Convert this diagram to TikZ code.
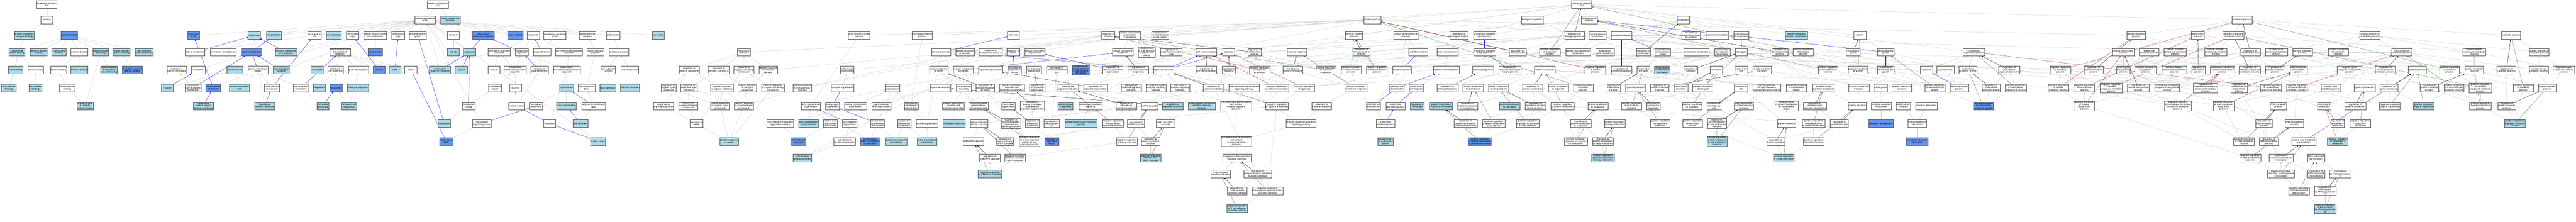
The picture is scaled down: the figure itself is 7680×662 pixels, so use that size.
\documentclass[tikz,border=0pt]{standalone}
\usepackage{fontspec}
\setmainfont{Liberation Sans}
\usetikzlibrary{arrows.meta,backgrounds}
\definecolor{lbl}{RGB}{173,216,230}
\definecolor{dbl}{RGB}{100,149,237}
\definecolor{bord}{RGB}{90,90,90}
\definecolor{egr}{RGB}{200,200,200}
\definecolor{ebl}{RGB}{0,0,255}
\definecolor{ered}{RGB}{178,34,34}
\definecolor{egrn}{RGB}{34,139,34}
\expandafter\def\csname rk0\endcsname{13.5}
\expandafter\def\csname rk1\endcsname{59}
\expandafter\def\csname rk2\endcsname{105.5}
\expandafter\def\csname rk3\endcsname{155.5}
\expandafter\def\csname rk4\endcsname{209}
\expandafter\def\csname rk5\endcsname{262}
\expandafter\def\csname rk6\endcsname{315.5}
\expandafter\def\csname rk7\endcsname{368.5}
\expandafter\def\csname rk8\endcsname{421.5}
\expandafter\def\csname rk9\endcsname{471.5}
\expandafter\def\csname rk10\endcsname{518.5}
\expandafter\def\csname rk11\endcsname{569}
\expandafter\def\csname rk12\endcsname{622}
\newcommand\GW[4]{\node[wbox] (#1) at (#2,\csname rk#3\endcsname) {#4};}
\newcommand\GL[4]{\node[lbox] (#1) at (#2,\csname rk#3\endcsname) {#4};}
\newcommand\GD[4]{\node[dbox] (#1) at (#2,\csname rk#3\endcsname) {#4};}
\tikzset{
gobox/.style={draw=bord,line width=0.7pt,rectangle,align=center,inner xsep=1.2pt,inner ysep=1pt,minimum height=23pt,minimum width=36pt,font=\fontsize{7}{6.9}\selectfont},
wbox/.style={gobox,fill=white},
lbox/.style={gobox,fill=lbl},
dbox/.style={gobox,fill=dbl},
edgebase/.style={line width=0.55pt,-{Triangle[length=4pt,width=3.4pt]}},
eg/.style={edgebase,color=egr},
eblue/.style={edgebase,color=ebl},
eblack/.style={edgebase,color=black},
ered/.style={edgebase,color=ered},
egreen/.style={edgebase,color=egrn}
}
\begin{document}
\begin{tikzpicture}[x=1pt,y=-1pt]
\path[use as bounding box] (0,0) rectangle (7680,662);
% ---------- molecular function ----------
\GW{mf}{139.4}{0}{molecular\_function\\Ezr}
\GW{bind}{139.4}{1}{binding}
\GL{pccb}{72}{2}{protein-containing\\complex binding}
\GD{pb}{206.3}{2}{protein binding}
\GL{cytb}{50}{3}{cytoskeletal\\protein binding}
\GL{idpb}{114.5}{3}{identical protein\\binding}
\GL{sbind}{175.7}{3}{S100 protein\\binding}
\GW{enzb}{236.5}{3}{enzyme binding}
\GL{pkab}{300.2}{3}{protein kinase\\A binding}
\GL{pdsb}{362.4}{3}{protein domain\\specific binding}
\GL{camb}{429.8}{3}{cell adhesion\\molecule binding}
\GL{actb}{46.5}{4}{actin binding}
\GW{tubb}{106.3}{4}{tubulin binding}
\GW{kinb}{174.3}{4}{kinase binding}
\GL{atpb}{236.3}{4}{ATPase binding}
\GL{pkar}{324.9}{4}{protein kinase\\A regulatory\\subunit binding}
\GD{ddsb}{394.3}{4}{disordered domain\\specific binding}
\GL{afb}{25.9}{5}{actin filament\\binding}
\GL{mtb}{106.1}{5}{microtubule\\binding}
\GW{pkb}{200.4}{5}{protein kinase\\binding}
\GL{pkac}{253.5}{6}{protein kinase\\A catalytic\\subunit binding}
% ---------- cellular component ----------
\GW{cc}{1305}{0}{cellular\_component\\Ezr}
\GW{cae}{1267.5}{1}{cellular anatomical\\entity}
\GL{pcc}{1342.4}{1}{protein-containing\\complex}
\GD{apc}{576.7}{2}{apical part\\of cell}
\GL{mem}{757.6}{2}{membrane}
\GL{cper}{816.5}{2}{cell periphery}
\GW{bpc}{937.3}{2}{basal part of\\cell}
\GL{cproj}{995.3}{2}{cell projection}
\GW{cte}{1050.8}{2}{cell trailing\\edge}
\GW{cabcp}{1118.6}{2}{cluster of actin-based\\cell projections}
\GW{cle}{1186.7}{2}{cell leading\\edge}
\GW{ems}{1245.5}{2}{endomembrane\\system}
\GW{cpole}{1351.6}{2}{cell pole}
\GD{ias}{1440.8}{2}{intracellular\\anatomical structure}
\GD{mys}{1536.3}{2}{myelin sheath}
\GW{org}{1590}{2}{organelle}
\GW{mel}{1654.3}{2}{membrane-enclosed\\lumen}
\GW{smc}{1751.4}{2}{supramolecular\\complex}
\GW{cj}{1828}{2}{cell junction}
\GL{cbody}{1962.9}{2}{cell body}
\GW{som}{581.4}{3}{side of membrane}
\GW{mmd}{665.5}{3}{membrane microdomain}
\GD{pm}{750}{3}{plasma membrane}
\GL{ecm}{853}{3}{extrinsic component\\of membrane}
\GW{pmbcp}{1014}{3}{plasma membrane\\bounded cell\\projection}
\GD{bb}{1118.6}{3}{brush border}
\GL{ctip}{1351.6}{3}{cell tip}
\GL{cyto}{1399.8}{3}{cytoplasm}
\GW{mbo}{1488.4}{3}{membrane-bounded\\organelle}
\GW{io}{1555.5}{3}{intracellular\\organelle}
\GW{ol}{1615.7}{3}{organelle lumen}
\GW{nmbo}{1696.3}{3}{non-membrane-bounded\\organelle}
\GW{smp}{1775.5}{3}{supramolecular\\polymer}
\GW{aj}{1845.1}{3}{anchoring junction}
\GW{csm}{526.7}{4}{cytoplasmic\\side of membrane}
\GW{sarc}{590.8}{4}{sarcolemma}
\GL{mraft}{700}{4}{membrane raft}
\GW{pmr}{769}{4}{plasma membrane\\region}
\GL{isyn}{838}{4}{immunological\\synapse}
\GL{mspk}{944.9}{4}{microspike}
\GW{abcp}{1000.6}{4}{actin-based\\cell projection}
\GW{gcp}{1068.4}{4}{glial cell projection}
\GD{urop}{1130.2}{4}{uropod}
\GL{ruff}{1177.6}{4}{ruffle}
\GW{cil}{1224.7}{4}{cilium}
\GL{pnr}{1312}{4}{perinuclear\\region of cytoplasm}
\GL{cytsol}{1375.3}{4}{cytosol}
\GW{ves}{1472.2}{4}{vesicle}
\GW{imbo}{1535.5}{4}{intracellular\\membrane-bounded\\organelle}
\GW{iol}{1608.8}{4}{intracellular\\organelle lumen}
\GW{inmbo}{1689.6}{4}{intracellular\\non-membrane-bounded\\organelle}
\GW{csj}{1813}{4}{cell-substrate\\junction}
\GW{ccj}{1877.8}{4}{cell-cell junction}
\GL{ttub}{498.6}{5}{T-tubule}
\GW{cspm}{575.1}{5}{cytoplasmic\\side of plasma\\membrane}
\GD{apm}{635.9}{5}{apical plasma\\membrane}
\GL{pmraft}{713.5}{5}{plasma membrane\\raft}
\GW{bpm}{810.4}{5}{basal plasma\\membrane}
\GW{cpm}{897.6}{5}{cell projection\\membrane}
\GL{filo}{951.8}{5}{filopodium}
\GD{mvil}{1001.8}{5}{microvillus}
\GL{astp}{1066.9}{5}{astrocyte projection}
\GW{ivs}{1475.7}{5}{intracellular\\vesicle}
\GW{nuc}{1537.1}{5}{nucleus}
\GL{csk}{1688.8}{5}{cytoskeleton}
\GW{smf}{1748.8}{5}{supramolecular\\fiber}
\GL{fadh}{1811.4}{5}{focal adhesion}
\GL{adhj}{1878.4}{5}{adherens junction}
\GL{csapm}{605.9}{6}{cytoplasmic\\side of apical\\plasma membrane}
\GL{blpm}{789.6}{6}{basolateral\\plasma membrane}
\GL{mvm}{962.4}{6}{microvillus\\membrane}
\GL{scm}{1041}{6}{Schwann cell\\microvillus}
\GW{cves}{1396.9}{6}{cytoplasmic\\vesicle}
\GW{nlum}{1539.6}{6}{nuclear lumen}
\GW{mtc}{1597.8}{6}{microtubule\\cytoskeleton}
\GL{acsk}{1688.6}{6}{actin cytoskeleton}
\GW{pcf}{1769.4}{6}{polymeric cytoskeletal\\fiber}
\GL{endo}{1324.1}{7}{endosome}
\GW{mtoc}{1436.7}{7}{microtubule\\organizing center}
\GW{ncl}{1638.8}{7}{nucleolus}
\GL{af}{1730.6}{7}{actin filament}
\GD{cbb}{1330.6}{8}{ciliary basal\\body}
\GL{fc}{1782.9}{8}{fibrillar center}
% ---------- biological process ----------
\GW{bp}{4715.5}{0}{biological\_process\\Ezr}
\GW{breg}{4568}{1}{biological regulation}
\GW{dp}{4737.8}{1}{developmental\\process}
\GW{loc}{5017.8}{1}{localization}
\GW{cp}{4091.2}{1}{cellular process}
\GW{mp}{6684.1}{1}{metabolic process}
\GW{afbp}{2561.2}{2}{actin filament-based\\process}
\GW{mtbp}{2749.4}{2}{microtubule-based\\process}
\GW{ccyc}{3020.6}{2}{cell cycle}
\GW{rstim}{3303.5}{2}{response to\\stimulus}
\GW{ccob}{3368.2}{2}{cellular component\\organization\\or biogenesis}
\GW{emcp}{3459.2}{2}{establishment\\or maintenance\\of cell polarity}
\GW{isp}{4035.9}{2}{immune system\\process}
\GW{cdp}{4191.2}{2}{cellular developmental\\process}
\GW{rbq}{4350.2}{2}{regulation of\\biological quality}
\GW{asd}{4425.9}{2}{anatomical structure\\development}
\GW{rbp}{4694.1}{2}{regulation of\\biological process}
\GW{mloc}{4762.7}{2}{macromolecule\\localization}
\GW{cloc}{4833.7}{2}{cellular localization}
\GW{mtocl}{5041.8}{2}{microtubule\\organizing center\\localization}
\GW{oloc}{5119.2}{2}{organelle localization}
\GW{eloc}{5191.4}{2}{establishment\\of localization}
\GL{pccl}{5355.7}{2}{protein-containing\\complex localization}
\GW{growth}{5545.1}{2}{growth}
\GW{cmp}{6368.6}{2}{cellular metabolic\\process}
\GW{bsp}{6552.2}{2}{biosynthetic\\process}
\GW{ncmp}{6658.4}{2}{nitrogen compound\\metabolic process}
\GW{osmp}{7065.5}{2}{organic substance\\metabolic process}
\GW{catp}{7486.5}{2}{catabolic process}
% r3
\GW{rchem}{2218}{3}{response to\\chemical}
\GW{ccp}{2805.9}{3}{cell cycle process}
\GW{crs}{2876.5}{3}{cellular response\\to stimulus}
\GW{res}{2953}{3}{response to\\endogenous stimulus}
\GW{rstress}{3020.8}{3}{response to\\stress}
\GW{cco}{3085.5}{3}{cellular component\\organization}
\GW{ccb}{3347.6}{3}{cellular component\\biogenesis}
\GW{emcpb}{3418.2}{3}{establishment\\or maintenance\\of bipolar cell\\polarity}
\GW{rass}{3491.8}{3}{regulation of\\anatomical structure\\size}
\GW{ccom}{3596.5}{3}{cell communication}
\GW{sig}{3663.3}{3}{signaling}
\GW{rrs}{3740.6}{3}{regulation of\\response to\\stimulus}
\GW{ir}{3867}{3}{immune response}
\GW{risp}{4059}{3}{regulation of\\immune system\\process}
\GW{cdiff}{4228.4}{3}{cell differentiation}
\GW{tdev}{4315.5}{3}{tissue development}
\GW{asm}{4425.9}{3}{anatomical structure\\morphogenesis}
\GW{rcp}{4524.1}{3}{regulation of\\cellular process}
\GW{nrbp}{4620.2}{3}{negative regulation\\of biological\\process}
\GW{cml}{4704.5}{3}{cellular macromolecule\\localization}
\GW{lwm}{4785.1}{3}{localization\\within membrane}
\GW{rloc}{4899.2}{3}{regulation of\\localization}
\GW{elc}{4957.3}{3}{establishment\\of localization\\in cell}
\GW{csl}{5057.6}{3}{centrosome localization}
\GW{eol}{5134.9}{3}{establishment\\of organelle\\localization}
\GW{trans}{5191.4}{3}{transport}
\GW{rdp}{5306.1}{3}{regulation of\\developmental\\process}
\GW{prbp}{5375.5}{3}{positive regulation\\of biological\\process}
\GW{rgrowth}{5524.9}{3}{regulation of\\growth}
\GW{dgrowth}{5622}{3}{developmental\\growth}
\GW{mop}{5884.7}{3}{multicellular\\organismal process}
\GW{cbsp}{6330.2}{3}{cellular biosynthetic\\process}
\GW{hmp}{6406.7}{3}{heterocycle\\metabolic process}
\GW{camp}{6484.7}{3}{cellular aromatic\\compound metabolic\\process}
\GW{cncmp}{6606.1}{3}{cellular nitrogen\\compound metabolic\\process}
\GW{rmp}{6709.2}{3}{regulation of\\metabolic process}
\GW{occmp}{6786.9}{3}{organic cyclic\\compound metabolic\\process}
\GW{pmp}{6864.7}{3}{primary metabolic\\process}
\GW{osbp}{6971}{3}{organic substance\\biosynthetic\\process}
\GW{mmp}{7160.2}{3}{macromolecule\\metabolic process}
\GW{oncmp}{7376.3}{3}{organonitrogen\\compound metabolic\\process}
\GW{oscp}{7569.8}{3}{organic substance\\catabolic process}
% r4
\GW{ros}{2054.9}{4}{response to\\organic substance}
\GW{rnc}{2142.4}{4}{response to\\nitrogen compound}
\GW{roc}{2217.8}{4}{response to\\oxygen-containing\\compound}
\GW{crcs}{2290}{4}{cellular response\\to chemical\\stimulus}
\GW{cjo}{2525.9}{4}{cell junction\\organization}
\GW{crstress}{2798.8}{4}{cellular response\\to stress}
\GW{cca}{2872}{4}{cellular component\\assembly}
\GW{oo}{2953}{4}{organelle organization}
\GW{rrstress}{3024.5}{4}{regulation of\\response to\\stress}
\GW{cpo}{3082.7}{4}{cell projection\\organization}
\GW{rccs}{3151}{4}{regulation of\\cellular component\\size}
\GD{emab}{3221.8}{4}{establishment\\or maintenance\\of apical/basal\\cell polarity}
\GW{rcco}{3317.3}{4}{regulation of\\cellular component\\organization}
\GW{rccb}{3393.5}{4}{regulation of\\cellular component\\biogenesis}
\GW{st}{3469.6}{4}{signal transduction}
\GW{rcc}{3596.3}{4}{regulation of\\cell communication}
\GW{rsig}{3663.7}{4}{regulation of\\signaling}
\GW{nrrs}{3755.3}{4}{negative regulation\\of response\\to stimulus}
\GW{rir}{3854.3}{4}{regulation of\\immune response}
\GW{prrs}{3953.1}{4}{positive regulation\\of response\\to stimulus}
\GW{prisp}{4028.4}{4}{positive regulation\\of immune system\\process}
\GW{nrisp}{4104.9}{4}{negative regulation\\of immune system\\process}
\GW{cdev}{4179.2}{4}{cell development}
\GW{edev}{4311.4}{4}{epithelium development}
\GW{cmorph}{4422}{4}{cell morphogenesis}
\GW{rasm}{4501.4}{4}{regulation of\\anatomical structure\\morphogenesis}
\GW{ploc}{4605.1}{4}{protein localization}
\GW{nrcp}{4756.1}{4}{negative regulation\\of cellular\\process}
\GW{rcl}{4833.7}{4}{regulation of\\cellular localization}
\GW{itr}{4899.4}{4}{intracellular\\transport}
\GL{ecl}{4955.7}{4}{establishment\\of centrosome\\localization}
\GW{rtr}{5040.4}{4}{regulation of\\transport}
\GW{secr}{5116.4}{4}{secretion}
\GW{efc}{5191}{4}{export from\\cell}
\GW{vmt}{5252.9}{4}{vesicle-mediated\\transport}
\GW{prdp}{5450.2}{4}{positive regulation\\of developmental\\process}
\GW{prg}{5539.2}{4}{positive regulation\\of growth}
\GW{rdg}{5622}{4}{regulation of\\developmental\\growth}
\GW{dig}{5743.7}{4}{digestion}
\GW{sysp}{5800.2}{4}{system process}
\GW{mog}{5866.9}{4}{multicellular\\organism growth}
\GW{rmop}{5990.2}{4}{regulation of\\multicellular\\organismal process}
\GW{nrmp}{6142.2}{4}{negative regulation\\of metabolic\\process}
\GW{rcmp}{6241.6}{4}{regulation of\\cellular metabolic\\process}
\GW{hbp}{6330.2}{4}{heterocycle\\biosynthetic\\process}
\GW{acbp}{6396.6}{4}{aromatic compound\\biosynthetic\\process}
\GW{cncbp}{6481.6}{4}{cellular nitrogen\\compound biosynthetic\\process}
\GW{rbsp}{6554.3}{4}{regulation of\\biosynthetic\\process}
\GW{nccmp}{6625.5}{4}{nucleobase-containing\\compound metabolic\\process}
\GW{rncmp}{6707.3}{4}{regulation of\\nitrogen compound\\metabolic process}
\GW{rpmp}{6782.9}{4}{regulation of\\primary metabolic\\process}
\GW{mbp}{6852.9}{4}{macromolecule\\biosynthetic\\process}
\GW{occbp}{7004.5}{4}{organic cyclic\\compound biosynthetic\\process}
\GW{rmmp}{7111.2}{4}{regulation of\\macromolecule\\metabolic process}
\GW{ge}{7206.9}{4}{gene expression}
\GW{prmp}{7302.9}{4}{positive regulation\\of metabolic\\process}
\GW{protmp}{7376.3}{4}{protein metabolic\\process}
\GW{rcatp}{7472.7}{4}{regulation of\\catabolic process}
\GW{mcp}{7568.6}{4}{macromolecule\\catabolic process}
\GW{onccp}{7643}{4}{organonitrogen\\compound catabolic\\process}
% r5
\GW{rocc}{1993.7}{5}{response to\\organic cyclic\\compound}
\GW{ronc}{2054.5}{5}{response to\\organonitrogen\\compound}
\GW{cros}{2152.7}{5}{cellular response\\to organic substance}
\GW{crnc}{2227.6}{5}{cellular response\\to nitrogen\\compound}
\GW{croc}{2303.9}{5}{cellular response\\to oxygen-containing\\compound}
\GW{cres}{2392.2}{5}{cellular response\\to endogenous\\stimulus}
\GW{syno}{2511.6}{5}{synapse organization}
\GW{csko}{2661.6}{5}{cytoskeleton\\organization}
\GW{oasm}{2803.5}{5}{organelle assembly}
\GW{cpa}{2873.3}{5}{cell projection\\assembly}
\GW{rcrs}{2937.6}{5}{regulation of\\cellular response\\to stress}
\GW{pmbcpo}{3017.3}{5}{plasma membrane\\bounded cell\\projection organization}
\GW{rcpo}{3092}{5}{regulation of\\cell projection\\organization}
\GW{ist}{3184.5}{5}{intracellular\\signal transduction}
\GW{roo}{3266.1}{5}{regulation of\\organelle organization}
\GW{smsp}{3372.4}{5}{sphingolipid\\mediated signaling\\pathway}
\GW{gpcr}{3446.5}{5}{G protein-coupled\\receptor signaling\\pathway}
\GW{csrsp}{3518.6}{5}{cell surface\\receptor signaling\\pathway}
\GW{rst}{3617.6}{5}{regulation of\\signal transduction}
\GW{irrsp}{3709.4}{5}{immune response-regulating\\signaling pathway}
\GW{nrcc}{3806.3}{5}{negative regulation\\of cell communication}
\GW{nrsig}{3888.2}{5}{negative regulation\\of signaling}
\GW{prir}{4042.2}{5}{positive regulation\\of immune response}
\GW{ecd}{4163.9}{5}{epithelial cell\\differentiation}
\GW{endev}{4223.1}{5}{endothelium\\development}
\GW{rcm}{4315.1}{5}{regulation of\\cell morphogenesis}
\GW{plm}{4391.8}{5}{protein localization\\to membrane}
\GW{plcp}{4467.8}{5}{protein localization\\to cell periphery}
\GW{rploc}{4569.2}{5}{regulation of\\protein localization}
\GW{plo}{4645.5}{5}{protein localization\\to organelle}
\GW{prcp}{4720.2}{5}{positive regulation\\of cellular\\process}
\GW{ritr}{4810.8}{5}{regulation of\\intracellular\\transport}
\GW{cytt}{4875.3}{5}{cytosolic transport}
\GW{rvmt}{4947.6}{5}{regulation of\\vesicle-mediated\\transport}
\GW{rsecr}{5011}{5}{regulation of\\secretion}
\GW{prtr}{5076.1}{5}{positive regulation\\of transport}
\GW{sbc}{5190.2}{5}{secretion by\\cell}
\GW{vmtec}{5267.3}{5}{vesicle-mediated\\transport between\\endosomal compartments}
\GW{pler}{5355.3}{5}{protein localization\\to extracellular\\region}
\GW{epl}{5435.9}{5}{establishment\\of protein localization}
\GW{nct}{5542}{5}{nitrogen compound\\transport}
\GW{endoc}{5606.9}{5}{endocytosis}
\GW{ost}{5669.8}{5}{organic substance\\transport}
\GW{prdg}{5768.6}{5}{positive regulation\\of developmental\\growth}
\GW{dsp}{5841.6}{5}{digestive system\\process}
\GW{rmog}{5936.3}{5}{regulation of\\multicellular\\organism growth}
\GW{prmop}{6009.6}{5}{positive regulation\\of multicellular\\organismal process}
\GW{nrcmp}{6136.5}{5}{negative regulation\\of cellular\\metabolic process}
\GW{nrbsp}{6214.1}{5}{negative regulation\\of biosynthetic\\process}
\GW{nrncmp}{6294.1}{5}{negative regulation\\of nitrogen\\compound metabolic\\process}
\GW{rcbsp}{6374.9}{5}{regulation of\\cellular biosynthetic\\process}
\GW{nccbp}{6460.6}{5}{nucleobase-containing\\compound biosynthetic\\process}
\GW{rnccmp}{6574.9}{5}{regulation of\\nucleobase-containing\\compound metabolic\\process}
\GW{rmbp}{6675.5}{5}{regulation of\\macromolecule\\biosynthetic\\process}
\GW{nrmop}{6770.8}{5}{negative regulation\\of multicellular\\organismal process}
\GW{nrmmp}{6848.4}{5}{negative regulation\\of macromolecule\\metabolic process}
\GW{namp}{6948.8}{5}{nucleic acid\\metabolic process}
\GW{cytp}{7049.2}{5}{cytokine production}
\GW{rge}{7122.2}{5}{regulation of\\gene expression}
\GW{rprotmp}{7242}{5}{regulation of\\protein metabolic\\process}
\GW{prmmp}{7315.7}{5}{positive regulation\\of macromolecule\\metabolic process}
\GW{prncmp}{7394.5}{5}{positive regulation\\of nitrogen\\compound metabolic\\process}
\GW{prcatp}{7522.9}{5}{positive regulation\\of catabolic\\process}
\GW{pcatp}{7594.1}{5}{protein catabolic\\process}
% r6
\GW{rop}{1978.2}{6}{response to\\organophosphorus}
\GW{rpcc}{2051.6}{6}{response to\\purine-containing\\compound}
\GW{crocc}{2146.5}{6}{cellular response\\to organic cyclic\\compound}
\GW{cronc}{2217.6}{6}{cellular response\\to organonitrogen\\compound}
\GW{acso}{2417.3}{6}{actin cytoskeleton\\organization}
\GW{pso}{2481.6}{6}{postsynapse\\organization}
\GW{ccso}{2550.6}{6}{cortical cytoskeleton\\organization}
\GW{sfo}{2627.6}{6}{supramolecular\\fiber organization}
\GW{mtco}{2716.1}{6}{microtubule\\cytoskeleton\\organization}
\GW{pmbcpa}{2841.4}{6}{plasma membrane\\bounded cell\\projection assembly}
\GW{sapk}{2917.6}{6}{stress-activated\\protein kinase\\signaling cascade}
\GW{mvo}{3006.1}{6}{microvillus\\organization}
\GW{rpmbcpo}{3077.6}{6}{regulation of\\plasma membrane\\bounded cell\\projection organization}
\GL{pkas}{3176}{6}{protein kinase\\A signaling}
\GW{ilms}{3251}{6}{inositol lipid-mediated\\signaling}
\GW{rist}{3358.2}{6}{regulation of\\intracellular\\signal transduction}
\GW{mapk}{3427.1}{6}{MAPK cascade}
\GL{roa}{3496.3}{6}{regulation of\\organelle assembly}
\GL{s1p}{3583.5}{6}{sphingosine-1-phosphate\\receptor signaling\\pathway}
\GW{irrcsr}{3685.3}{6}{immune response-regulating\\cell surface\\receptor signaling\\pathway}
\GW{nrst}{3806.6}{6}{negative regulation\\of signal transduction}
\GW{air}{3940.4}{6}{activation of\\immune response}
\GW{ecdev}{4094.7}{6}{epithelial cell\\development}
\GW{encd}{4160.4}{6}{endothelial\\cell differentiation}
\GL{rcs}{4225.5}{6}{regulation of\\cell shape}
\GL{plpm}{4295.7}{6}{protein localization\\to plasma membrane}
\GW{rplm}{4375.5}{6}{regulation of\\protein localization\\to membrane}
\GL{plcc}{4500.9}{6}{protein localization\\to cell cortex}
\GW{rplcp}{4577.8}{6}{regulation of\\protein localization\\to cell periphery}
\GW{prploc}{4658.4}{6}{positive regulation\\of protein localization}
\GW{ple}{4763.7}{6}{protein localization\\to endosome}
\GW{pritr}{4863.9}{6}{positive regulation\\of intracellular\\transport}
\GW{rctr}{4929.2}{6}{regulation of\\cytoplasmic\\transport}
\GW{prsecr}{5044.9}{6}{positive regulation\\of secretion}
\GW{rsbc}{5109.6}{6}{regulation of\\secretion by\\cell}
\GW{eele}{5198.8}{6}{early endosome\\to late endosome\\transport}
\GW{epler}{5326.3}{6}{establishment\\of protein localization\\to extracellular\\region}
\GW{repl}{5410.8}{6}{regulation of\\establishment\\of protein localization}
\GW{ptr}{5537.3}{6}{protein transport}
\GW{rme}{5608.6}{6}{receptor-mediated\\endocytosis}
\GW{cht}{5674.1}{6}{carbohydrate\\transport}
\GW{ia}{5742.8}{6}{intestinal absorption}
\GD{prmog}{5912.9}{6}{positive regulation\\of multicellular\\organism growth}
\GW{nrcbsp}{6214.1}{6}{negative regulation\\of cellular\\biosynthetic\\process}
\GW{nrnccmp}{6492.7}{6}{negative regulation\\of nucleobase-containing\\compound metabolic\\process}
\GW{nrmbp}{6629}{6}{negative regulation\\of macromolecule\\biosynthetic\\process}
\GW{rnamp}{6792.9}{6}{RNA metabolic\\process}
\GW{il2p}{6929.2}{6}{interleukin-2\\production}
\GW{rcytp}{7021.5}{6}{regulation of\\cytokine production}
\GW{nrge}{7124.5}{6}{negative regulation\\of gene expression}
\GL{prge}{7225.9}{6}{positive regulation\\of gene expression}
\GW{prprotmp}{7394.5}{6}{positive regulation\\of protein metabolic\\process}
\GW{rpcatp}{7473.5}{6}{regulation of\\protein catabolic\\process}
% r7
\GW{rcamp}{2076.1}{7}{response to\\cAMP}
\GW{nmboa}{2326.1}{7}{non-membrane-bounded\\organelle assembly}
\GL{acsr}{2410}{7}{actin cytoskeleton\\reorganization}
\GW{cacso}{2475.7}{7}{cortical actin\\cytoskeleton\\organization}
\GW{afo}{2533}{7}{actin filament\\organization}
\GW{pcso}{2615.5}{7}{postsynaptic\\cytoskeleton\\organization}
\GW{cmo}{2695.9}{7}{cytoplasmic\\microtubule\\organization}
\GW{spo}{2763.5}{7}{spindle organization}
\GL{filoa}{2844.7}{7}{filopodium assembly}
\GW{samapk}{2918.8}{7}{stress-activated\\MAPK cascade}
\GW{rsapk}{3013.5}{7}{regulation of\\stress-activated\\protein kinase\\signaling cascade}
\GW{rmvo}{3077.8}{7}{regulation of\\microvillus\\organization}
\GW{rcps}{3135.5}{7}{regulation of\\cell projection\\size}
\GL{pims}{3222.5}{7}{phosphatidylinositol-mediated\\signaling}
\GW{nrist}{3317.6}{7}{negative regulation\\of intracellular\\signal transduction}
\GW{rmapk}{3386.9}{7}{regulation of\\MAPK cascade}
\GW{erk}{3474.9}{7}{ERK1 and ERK2\\cascade}
\GW{irasp}{3878.8}{7}{immune response-activating\\signaling pathway}
\GW{ecdv}{4130.2}{7}{endothelial\\cell development}
\GW{rplpm}{4369.2}{7}{regulation of\\protein localization\\to plasma membrane}
\GW{prplm}{4452.9}{7}{positive regulation\\of protein localization\\to membrane}
\GW{prplcp}{4554.7}{7}{positive regulation\\of protein localization\\to cell periphery}
\GW{rple}{4712.9}{7}{regulation of\\protein localization\\to endosome}
\GW{plee}{4813.9}{7}{protein localization\\to early endosome}
\GW{prctr}{4949.6}{7}{positive regulation\\of cytoplasmic\\transport}
\GW{prsbc}{5046.1}{7}{positive regulation\\of secretion\\by cell}
\GW{reele}{5118.8}{7}{regulation of\\early endosome\\to late endosome\\transport}
\GW{psec}{5326.3}{7}{protein secretion}
\GW{prepl}{5406.9}{7}{positive regulation\\of establishment\\of protein localization}
\GW{rptr}{5483.5}{7}{regulation of\\protein transport}
\GD{rint}{5608.6}{7}{receptor internalization}
\GW{iha}{5715.5}{7}{intestinal hexose\\absorption}
\GW{rrnamp}{6748.8}{7}{regulation of\\RNA metabolic\\process}
\GW{rnabp}{6840.2}{7}{RNA biosynthetic\\process}
\GW{ril2}{6969.2}{7}{regulation of\\interleukin-2\\production}
\GW{nrcytp}{7036.8}{7}{negative regulation\\of cytokine\\production}
\GL{prpcatp}{7497.1}{7}{positive regulation\\of protein catabolic\\process}
% r8
\GL{crcamp}{2173.5}{8}{cellular response\\to cAMP}
\GD{twa}{2381}{8}{terminal web\\assembly}
\GW{afbo}{2518}{8}{actin filament\\bundle organization}
\GD{pacso}{2594.5}{8}{postsynaptic\\actin cytoskeleton\\organization}
\GL{cmto}{2671.8}{8}{cortical microtubule\\organization}
\GL{amto}{2763.7}{8}{astral microtubule\\organization}
\GW{p38}{2901.8}{8}{p38MAPK cascade}
\GW{rsamapk}{2996.5}{8}{regulation of\\stress-activated\\MAPK cascade}
\GW{nrsapk}{3069.2}{8}{negative regulation\\of stress-activated\\protein kinase\\signaling cascade}
\GD{rmvl}{3135.9}{8}{regulation of\\microvillus\\length}
\GW{nrmapk}{3359.2}{8}{negative regulation\\of MAPK cascade}
\GW{rerk}{3430}{8}{regulation of\\ERK1 and ERK2\\cascade}
\GW{iracsr}{3685.9}{8}{immune response-activating\\cell surface\\receptor signaling\\pathway}
\GL{eeb}{4130.6}{8}{establishment\\of endothelial\\barrier}
\GD{prplpm}{4411}{8}{positive regulation\\of protein localization\\to plasma membrane}
\GW{prple}{4698}{8}{positive regulation\\of protein localization\\to endosome}
\GW{rplee}{4778.6}{8}{regulation of\\protein localization\\to early endosome}
\GL{preele}{5118.8}{8}{positive regulation\\of early endosome\\to late endosome\\transport}
\GW{rpsec}{5294.1}{8}{regulation of\\protein secretion}
\GW{prptr}{5406.9}{8}{positive regulation\\of protein transport}
\GD{idga}{5715.5}{8}{intestinal D-glucose\\absorption}
\GW{nrrnamp}{6689.8}{8}{negative regulation\\of RNA metabolic\\process}
\GW{rrnabp}{6763.9}{8}{regulation of\\RNA biosynthetic\\process}
\GW{natt}{6868.2}{8}{nucleic acid-templated\\transcription}
\GL{nril2}{6969.6}{8}{negative regulation\\of interleukin-2\\production}
% r9
\GL{afba}{2392.4}{9}{actin filament\\bundle assembly}
\GW{rp38}{2951}{9}{regulation of\\p38MAPK cascade}
\GW{nrsamapk}{3026.3}{9}{negative regulation\\of stress-activated\\MAPK cascade}
\GL{nrerk}{3430}{9}{negative regulation\\of ERK1 and\\ERK2 cascade}
\GW{armsp}{3687.1}{9}{antigen receptor-mediated\\signaling pathway}
\GL{prplee}{4778.8}{9}{positive regulation\\of protein localization\\to early endosome}
\GL{prpsec}{5318}{9}{positive regulation\\of protein secretion}
\GW{nrrnabp}{6708.6}{9}{negative regulation\\of RNA biosynthetic\\process}
\GW{rnatt}{6800.8}{9}{regulation of\\nucleic acid-templated\\transcription}
\GW{dtt}{6905.1}{9}{DNA-templated\\transcription}
% r10
\GL{nrp38}{2951.2}{10}{negative regulation\\of p38MAPK cascade}
\GW{tcr}{3638.6}{10}{T cell receptor\\signaling pathway}
\GW{rarmsp}{3749.6}{10}{regulation of\\antigen receptor-mediated\\signaling pathway}
\GW{nrnatt}{6800}{10}{negative regulation\\of nucleic acid-templated\\transcription}
\GW{rdtt}{6905.5}{10}{regulation of\\DNA-templated\\transcription}
\GW{trp2}{6976.9}{10}{transcription\\by RNA polymerase\\II}
% r11
\GW{rtcr}{3687.8}{11}{regulation of\\T cell receptor\\signaling pathway}
\GW{nrarmsp}{3778.6}{11}{negative regulation\\of antigen receptor-mediated\\signaling pathway}
\GW{nrdtt}{6853.9}{11}{negative regulation\\of DNA-templated\\transcription}
\GW{rtrp2}{6931.6}{11}{regulation of\\transcription\\by RNA polymerase\\II}
% r12
\GL{nrtcr}{3688}{12}{negative regulation\\of T cell receptor\\signaling pathway}
\GL{nrtrp2}{6931.6}{12}{negative regulation\\of transcription\\by RNA polymerase\\II}
% ---------- edges ----------
\begin{pgfonlayer}{background}
\fill[white] (0,0) rectangle (7680,662);
\foreach \a/\b in {bind/mf,pccb/bind,pb/bind,cytb/pb,idpb/pb,sbind/pb,enzb/pb,pkab/pb,pdsb/pb,camb/pb,actb/cytb,tubb/cytb,kinb/enzb,atpb/enzb,pkar/pkab,ddsb/pdsb,afb/actb,afb/pccb,mtb/tubb,pkb/kinb,pkac/pkb,pkac/pkab,
cae/cc,pcc/cc,apc/cae,mem/cae,cper/cae,bpc/cae,cproj/cae,cte/cae,cabcp/cae,cle/cae,ems/cae,cpole/cae,ias/cae,mys/cae,org/cae,mel/cae,smc/cae,cj/cae,cbody/cae,som/cae,mmd/mem,pm/mem,pmr/mem,mraft/mmd,isyn/cae,ecm/cae,pmraft/mraft,pmraft/pmr,bpm/pmr,cpm/pmr,apm/pmr,blpm/pmr,sarc/pm,csm/som,cspm/csm,csapm/cspm,ttub/cae,pmbcp/cproj,mspk/pmbcp,abcp/pmbcp,gcp/pmbcp,urop/pmbcp,ruff/pmbcp,cil/pmbcp,cil/mbo,bb/cabcp,filo/abcp,mvil/abcp,astp/gcp,mvm/cpm,scm/mvil,scm/gcp,ctip/cpole,pnr/cae,cytsol/cae,cyto/cae,io/org,mbo/org,ol/mel,nmbo/org,smp/smc,aj/cj,ves/mbo,imbo/mbo,imbo/io,iol/ol,inmbo/nmbo,inmbo/io,csj/aj,ccj/aj,ivs/ves,ivs/imbo,nuc/imbo,csk/inmbo,smf/smp,fadh/csj,adhj/ccj,cves/ivs,nlum/iol,mtc/csk,acsk/csk,pcf/smf,endo/cves,mtoc/cae,ncl/inmbo,af/pcf,cbb/mtoc,fc/cae,
afbp/cp,mtbp/cp,ccyc/cp,rstim/bp,ccob/cp,emcp/cp,isp/bp,cdp/dp,cdp/cp,rbq/breg,asd/dp,rbp/breg,mloc/loc,cloc/loc,cloc/cp,mtocl/oloc,oloc/cloc,eloc/loc,pccl/loc,growth/bp,cmp/mp,cmp/cp,bsp/mp,ncmp/mp,osmp/mp,catp/mp,breg/bp,dp/bp,loc/bp,cp/bp,mp/bp,
rchem/rstim,ccp/cp,crs/rstim,crs/cp,res/rstim,rstress/rstim,cco/ccob,ccb/ccob,emcpb/emcp,rass/rbq,ccom/cp,sig/bp,rrs/rbp,ir/isp,ir/rstim,risp/rbp,cdiff/cdp,tdev/asd,rcp/rbp,nrbp/rbp,cml/mloc,cml/cloc,lwm/loc,rloc/rbp,elc/eloc,csl/mtocl,eol/oloc,eol/elc,trans/eloc,rdp/rbp,prbp/rbp,rgrowth/rbp,dgrowth/growth,mop/bp,cbsp/bsp,cbsp/cmp,hmp/cmp,camp/cmp,cncmp/ncmp,cncmp/cmp,rmp/rbp,occmp/osmp,pmp/mp,osbp/bsp,osbp/osmp,mmp/osmp,mmp/pmp,oncmp/ncmp,oncmp/osmp,oscp/catp,oscp/osmp,
ros/rchem,rnc/rchem,roc/rchem,crcs/rchem,crcs/crs,cjo/cco,crstress/rstress,crstress/crs,oo/cco,cpo/cco,rrstress/rrs,rccs/rcco,rccs/rbq,emab/emcp,rcco/rcp,rccb/rbp,rcc/rcp,rsig/rbp,nrrs/rrs,nrrs/nrbp,rir/risp,rir/rrs,prrs/rrs,prrs/prbp,prisp/risp,prisp/prbp,nrisp/risp,nrisp/nrbp,cdev/cdp,edev/tdev,cmorph/asm,rasm/rdp,ploc/cml,nrcp/nrbp,nrcp/rcp,rcl/rloc,rcl/rcp,itr/trans,itr/elc,ecl/csl,ecl/eol,rtr/rloc,secr/trans,efc/trans,vmt/trans,prdp/rdp,prdp/prbp,prg/rgrowth,prg/prbp,rdg/rgrowth,rdg/rdp,dig/mop,sysp/mop,mog/mop,mog/dgrowth,rmop/rbp,nrmp/rmp,nrmp/nrbp,rcmp/rmp,rcmp/rcp,hbp/hmp,hbp/cbsp,acbp/camp,acbp/cbsp,cncbp/cncmp,cncbp/cbsp,rbsp/rmp,nccmp/hmp,nccmp/camp,nccmp/cncmp,nccmp/occmp,rncmp/rmp,rpmp/rmp,mbp/bsp,mbp/mmp,occbp/occmp,occbp/osbp,rmmp/rmp,ge/mmp,prmp/rmp,prmp/prbp,protmp/mmp,protmp/oncmp,rcatp/rmp,mcp/mmp,mcp/oscp,onccp/oncmp,onccp/oscp,
rocc/ros,ronc/ros,ronc/rnc,cros/ros,cros/crcs,crnc/rnc,crnc/crcs,croc/roc,croc/crcs,cres/res,cres/crs,syno/cjo,csko/oo,oasm/oo,oasm/cca,cpa/cpo,cpa/cca,rcrs/rrstress,pmbcpo/cpo,rcpo/rcco,ist/st,roo/rcco,smsp/st,gpcr/st,csrsp/st,rst/rcc,rst/rsig,rst/rrs,irrsp/st,irrsp/rir,nrcc/rcc,nrcc/nrcp,nrsig/rsig,nrsig/nrbp,prir/rir,prir/prisp,prir/prrs,ecd/cdiff,endev/edev,rcm/rasm,plm/ploc,plcp/ploc,rploc/rloc,plo/ploc,prcp/prbp,prcp/rcp,ritr/rtr,ritr/rcl,cytt/itr,rvmt/rtr,rsecr/rtr,prtr/rtr,sbc/secr,sbc/efc,vmtec/vmt,vmtec/itr,pler/ploc,epl/ploc,epl/eloc,nct/trans,endoc/vmt,ost/trans,prdg/rdg,prdg/prg,prdg/prdp,dsp/sysp,rmog/rmop,rmog/rdg,prmop/rmop,prmop/prbp,nrcmp/rcmp,nrcmp/nrmp,nrcmp/nrcp,nrbsp/rbsp,nrbsp/nrmp,nrncmp/rncmp,nrncmp/nrmp,rcbsp/rbsp,rcbsp/rcmp,nccbp/nccmp,nccbp/hbp,nccbp/acbp,nccbp/cncbp,nccbp/occbp,rnccmp/rcmp,rnccmp/rncmp,rmbp/rbsp,rmbp/rmmp,nrmop/rmop,nrmop/nrbp,nrmmp/rmmp,nrmmp/nrmp,namp/nccmp,namp/mmp,rge/rmmp,rprotmp/rmmp,prmmp/rmmp,prmmp/prmp,prncmp/rncmp,prncmp/prmp,prcatp/rcatp,prcatp/prmp,pcatp/protmp,pcatp/mcp,pcatp/onccp,
rop/ros,rpcc/rocc,rpcc/ronc,crocc/rocc,crocc/cros,cronc/ronc,cronc/cros,cronc/crnc,cronc/cres,acso/csko,acso/afbp,ccso/csko,sfo/cco,mtco/csko,mtco/mtbp,pmbcpa/pmbcpo,pmbcpa/cpa,sapk/ist,sapk/crstress,mvo/pmbcpo,rpmbcpo/rcpo,pkas/ist,ilms/ist,rist/rst,mapk/ist,roa/roo,s1p/smsp,s1p/gpcr,irrcsr/irrsp,irrcsr/csrsp,nrst/rst,nrst/nrcc,nrst/nrsig,nrst/nrrs,air/prir,ecdev/cdev,encd/ecd,rcs/rcm,plpm/plm,plpm/plcp,rplm/rploc,plcc/plcp,rplcp/rploc,prploc/rploc,prploc/prcp,ple/plo,pritr/ritr,pritr/prtr,rctr/ritr,prsecr/rsecr,prsecr/prtr,rsbc/rsecr,eele/vmtec,epler/pler,epler/epl,repl/rploc,ptr/epl,ptr/nct,ptr/ost,rme/endoc,cht/ost,ia/dsp,prmog/rmog,prmog/prmop,prmog/prdg,nrcbsp/rcbsp,nrcbsp/nrbsp,nrcbsp/nrcmp,nrnccmp/rnccmp,nrnccmp/nrcmp,nrnccmp/nrncmp,nrmbp/rmbp,nrmbp/nrbsp,nrmbp/nrmmp,rnamp/namp,il2p/cytp,rcytp/rmop,nrge/rge,nrge/nrmmp,prge/rge,prge/prmmp,prprotmp/rprotmp,prprotmp/prmmp,prprotmp/prncmp,rpcatp/rcatp,rpcatp/rprotmp,
rcamp/rop,rcamp/rpcc,rcamp/roc,nmboa/oasm,acsr/acso,cacso/acso,cacso/ccso,pcso/csko,cmo/mtco,spo/mtco,spo/ccp,filoa/pmbcpa,samapk/sapk,samapk/mapk,rsapk/rist,rsapk/rcrs,rmvo/rpmbcpo,rcps/rccs,rcps/rass,pims/ilms,nrist/rist,nrist/nrst,rmapk/rist,erk/mapk,irasp/irrsp,irasp/air,ecdv/ecdev,rplpm/rplm,rplpm/rplcp,prplm/rplm,prplm/prploc,prplcp/rplcp,prplcp/prploc,rple/rploc,plee/ple,prctr/rctr,prctr/pritr,prsbc/rsbc,prsbc/prsecr,reele/rvmt,psec/epler,psec/sbc,prepl/repl,prepl/prploc,rptr/repl,rint/rme,iha/ia,iha/cht,rrnamp/rnccmp,rnabp/rnamp,rnabp/nccbp,rnabp/mbp,ril2/rcytp,nrcytp/rcytp,nrcytp/nrmop,prpcatp/rpcatp,prpcatp/prcatp,prpcatp/prprotmp,
crcamp/rcamp,crcamp/crocc,crcamp/cronc,crcamp/croc,twa/nmboa,twa/cacso,afbo/afo,pacso/pcso,pacso/acso,cmto/cmo,cmto/ccso,amto/spo,amto/cmo,p38/samapk,rsamapk/rsapk,rsamapk/rmapk,nrsapk/rsapk,nrsapk/nrist,rmvl/rmvo,rmvl/rcps,nrmapk/rmapk,nrmapk/nrist,rerk/rmapk,iracsr/irrcsr,iracsr/irasp,eeb/ecdv,prplpm/rplpm,prplpm/prplm,prplpm/prplcp,prple/rple,prple/prploc,rplee/rple,preele/reele,preele/prtr,rpsec/rptr,rpsec/rsbc,prptr/rptr,prptr/prepl,idga/iha,nrrnamp/rrnamp,nrrnamp/nrnccmp,rrnabp/rrnamp,rrnabp/rmbp,rrnabp/rcbsp,natt/rnabp,nril2/ril2,nril2/nrcytp,
afba/afbo,afba/cca,rp38/rsamapk,nrsamapk/rsamapk,nrsamapk/nrsapk,nrsamapk/nrmapk,nrerk/rerk,nrerk/nrmapk,armsp/iracsr,prplee/rplee,prplee/prple,prpsec/rpsec,prpsec/prptr,prpsec/prsbc,nrrnabp/rrnabp,nrrnabp/nrrnamp,nrrnabp/nrmbp,nrrnabp/nrcbsp,rnatt/rrnabp,dtt/natt,
nrp38/rp38,nrp38/nrsamapk,tcr/armsp,rarmsp/rst,nrnatt/rnatt,nrnatt/nrrnabp,rdtt/rnatt,trp2/dtt,
rtcr/rarmsp,nrarmsp/rarmsp,nrarmsp/nrst,nrdtt/rdtt,nrdtt/nrnatt,rtrp2/rdtt,
nrtcr/rtcr,nrtcr/nrarmsp,nrtrp2/rtrp2,nrtrp2/nrdtt}
  \draw[eg] (\a) -- (\b);
\foreach \a/\b in {som/mem,pm/cper,ecm/mem,pmr/pm,isyn/pm,bpm/bpc,cpm/pmbcp,apm/apc,blpm/bpm,ttub/sarc,cspm/pm,csapm/apm,urop/cte,ruff/cle,mvm/mvil,cbb/cil,endo/ems,cyto/ias,pnr/cyto,cytsol/cyto,io/ias,ol/org,iol/io,cves/cyto,nlum/nuc,pcf/csk,mtoc/mtc,ncl/nlum,af/acsk,fc/ncl,
ccp/ccyc,st/ccom,st/sig,st/crs,afo/acso,pso/syno,pcso/pso,cca/ccb,cdev/cdiff,ecd/edev,ecdev/ecd,encd/endev,ecdv/encd,asm/asd,elc/cloc,dgrowth/dp,dsp/dig,natt/ge}
  \draw[eblue] (\a) -- (\b);
\foreach \a/\b in {rbp/bp,rcp/cp,rloc/loc,rcl/cloc,rtr/trans,rploc/ploc,rplm/plm,rplcp/plcp,rplpm/plpm,rple/ple,rplee/plee,ritr/itr,rctr/cytt,rvmt/vmt,rsecr/secr,rsbc/sbc,reele/eele,rpsec/psec,rptr/ptr,repl/epl,rgrowth/growth,rdg/dgrowth,rdp/dp,rmop/mop,rmog/mog,rmp/mp,rcmp/cmp,rbsp/bsp,rncmp/ncmp,rpmp/pmp,rmbp/mbp,rnccmp/nccmp,rmmp/mmp,rge/ge,rprotmp/protmp,rcatp/catp,rpcatp/pcatp,rcbsp/cbsp,rrnamp/rnamp,rrnabp/rnabp,rnatt/natt,rdtt/dtt,rtrp2/trp2,ril2/il2p,rcytp/cytp,risp/isp,rir/ir,rrs/rstim,rrstress/rstress,rcrs/crstress,rsapk/sapk,rsamapk/samapk,rp38/p38,rist/ist,rmapk/mapk,rerk/erk,rst/st,rcc/ccom,rsig/sig,rarmsp/armsp,rtcr/tcr,rcco/cco,rccb/ccb,roo/oo,rcpo/cpo,rpmbcpo/pmbcpo,rmvo/mvo,roa/oasm,rasm/asm,rcm/cmorph}
  \draw[eblack] (\a) -- (\b);
\foreach \a/\b in {nrbp/bp,nrcp/cp,nrrs/rstim,nrcc/ccom,nrsig/sig,nrst/st,nrist/ist,nrmapk/mapk,nrerk/erk,nrsapk/sapk,nrsamapk/samapk,nrp38/p38,nrisp/isp,nrarmsp/armsp,nrtcr/tcr,nrmp/mp,nrcmp/cmp,nrbsp/bsp,nrncmp/ncmp,nrcbsp/cbsp,nrnccmp/nccmp,nrmbp/mbp,nrmop/mop,nrmmp/mmp,nrge/ge,nrrnamp/rnamp,nrrnabp/rnabp,nrnatt/natt,nrdtt/dtt,nrtrp2/trp2,nril2/il2p,nrcytp/cytp}
  \draw[ered] (\a) -- (\b);
\foreach \a/\b in {prbp/bp,prcp/cp,prrs/rstim,prisp/isp,prir/ir,prploc/ploc,prplm/plm,prplcp/plcp,prplpm/plpm,prple/ple,prplee/plee,pritr/itr,prctr/cytt,prsecr/secr,prsbc/sbc,preele/eele,prtr/trans,prepl/epl,prptr/ptr,prpsec/psec,prdp/dp,prg/growth,prdg/dgrowth,prmop/mop,prmog/mog,prmp/mp,prmmp/mmp,prncmp/ncmp,prge/ge,prprotmp/protmp,prcatp/catp,prpcatp/pcatp}
  \draw[egreen] (\a) -- (\b);
\end{pgfonlayer}
\end{tikzpicture}
\end{document}
